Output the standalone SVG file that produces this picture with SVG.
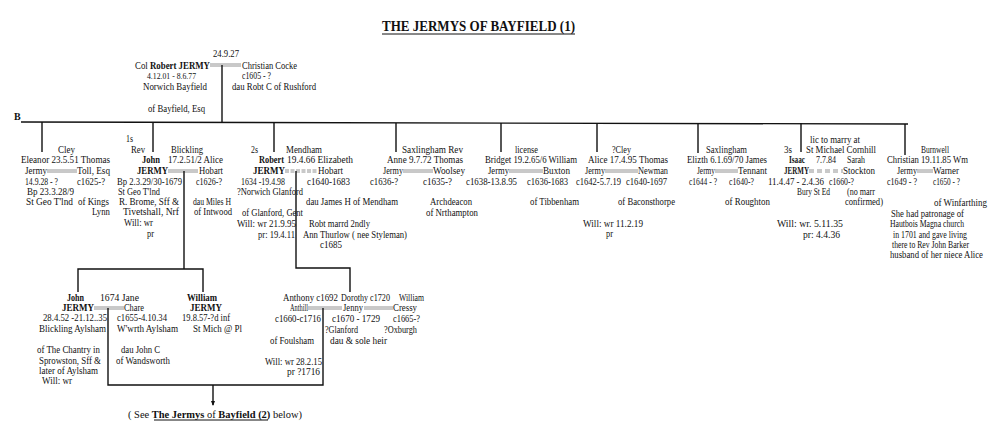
<svg xmlns="http://www.w3.org/2000/svg" width="1004" height="447" viewBox="0 0 1004 447">
<style>
text{font-family:"Liberation Serif","Times New Roman",serif;font-size:10px;fill:#111}
.b{font-weight:bold}
.s{font-size:9px}
.title{font-size:14px;font-weight:bold}
.c{stroke:#111;stroke-width:1.4;fill:none}
.m{stroke:#777;stroke-width:0.8;fill:none}
.md{stroke:#777;stroke-width:0.8;fill:none;stroke-dasharray:4 1.5}
.md2{stroke:#777;stroke-width:0.8;fill:none;stroke-dasharray:5 3}
</style>
<rect width="1004" height="447" fill="#fff"/>
<g id="title">
<text class="title" x="382" y="31" textLength="193" lengthAdjust="spacingAndGlyphs">THE JERMYS OF BAYFIELD (1)</text>
<line x1="382" y1="34" x2="575" y2="34" stroke="#111" stroke-width="1"/>
</g>
<g id="connectors">
<path class="m" d="M210 64H241M210 66H241"/>
<path class="c" d="M222 65V122"/>
<path class="c" d="M21 122L908 124"/>
<path class="c" d="M42 122V152M153 122V152M274 123V152M396 123V152M501 123V152M597 123V152M698 123V153M801 123V152M905 124V155"/>
<path class="m" d="M47 170H77M47 172H77"/>
<path class="m" d="M168 170H198M168 172H198"/>
<path class="md" d="M285 170H317M285 172H317"/>
<path class="m" d="M403 170H433M403 172H433"/>
<path class="m" d="M509 170H543M509 172H543"/>
<path class="m" d="M605 170H638M605 172H638"/>
<path class="m" d="M715 170H738M715 172H738"/>
<path class="md2" d="M809 170H843M809 172H843"/>
<path class="m" d="M917 170H933M917 172H933"/>
<path class="c" d="M184 171V269M78 292V269H203V292"/>
<path class="c" d="M296 171V268H350V292"/>
<path class="m" d="M94 307H124M94 309H124"/>
<path class="m" d="M308 307H342M308 309H342"/>
<path class="m" d="M364 307H393M364 309H393"/>
<path class="c" d="M108 308V385H323V308"/>
<path class="c" d="M213 385V405"/>
<path d="M211 401L213 406L215 401Z" fill="#111"/>
</g>
<g id="marker-b"><text class="b" x="14" y="120" font-size="8">B</text></g>
<g id="robert-sr">
<text x="213" y="57" textLength="26" lengthAdjust="spacingAndGlyphs">24.9.27</text>
<text x="135" y="68.5" textLength="75" lengthAdjust="spacingAndGlyphs">Col <tspan class="b">Robert JERMY</tspan></text>
<text class="s" x="147" y="78.5" textLength="49" lengthAdjust="spacingAndGlyphs">4.12.01 - 8.6.77</text>
<text x="143" y="89.5" textLength="64" lengthAdjust="spacingAndGlyphs">Norwich  Bayfield</text>
<text x="148" y="111.5" textLength="57" lengthAdjust="spacingAndGlyphs">of Bayfield, Esq</text>
</g>
<g id="christian-cocke">
<text x="242" y="68.5" textLength="55" lengthAdjust="spacingAndGlyphs">Christian Cocke</text>
<text x="242" y="78.5" textLength="29" lengthAdjust="spacingAndGlyphs">c1605  -  ?</text>
<text x="232" y="89.5" textLength="84" lengthAdjust="spacingAndGlyphs">dau Robt C of Rushford</text>
</g>
<g id="eleanor">
<text x="58" y="152.5" textLength="17" lengthAdjust="spacingAndGlyphs">Cley</text>
<text x="21" y="163" textLength="89" lengthAdjust="spacingAndGlyphs">Eleanor  23.5.51  Thomas</text>
<text x="25" y="174" textLength="22" lengthAdjust="spacingAndGlyphs">Jermy</text>
<text x="77" y="174" textLength="33" lengthAdjust="spacingAndGlyphs">Toll, Esq</text>
<text x="25" y="184.5" textLength="33" lengthAdjust="spacingAndGlyphs">14.9.28 - ?</text>
<text x="77" y="184.5" textLength="28" lengthAdjust="spacingAndGlyphs">c1625-?</text>
<text x="27" y="194.5" textLength="47" lengthAdjust="spacingAndGlyphs">Bp 23.3.28/9</text>
<text x="26" y="204.5" textLength="47" lengthAdjust="spacingAndGlyphs">St Geo T'lnd</text>
<text x="78" y="204.5" textLength="31" lengthAdjust="spacingAndGlyphs">of Kings</text>
<text x="92" y="214.5" textLength="18" lengthAdjust="spacingAndGlyphs">Lynn</text>
</g>
<g id="john">
<text x="126" y="141.5" textLength="7" lengthAdjust="spacingAndGlyphs">1s</text>
<text x="131" y="152.5" textLength="14" lengthAdjust="spacingAndGlyphs">Rev</text>
<text class="b" x="142" y="163" textLength="18" lengthAdjust="spacingAndGlyphs">John</text>
<text class="b" x="137" y="174" textLength="31" lengthAdjust="spacingAndGlyphs">JERMY</text>
<text x="117" y="184.5" textLength="65" lengthAdjust="spacingAndGlyphs">Bp 2.3.29/30-1679</text>
<text x="118" y="194.5" textLength="42" lengthAdjust="spacingAndGlyphs">St Geo T'lnd</text>
<text x="119" y="204.5" textLength="60" lengthAdjust="spacingAndGlyphs">R. Brome, Sff  &amp;</text>
<text x="123" y="214.5" textLength="56" lengthAdjust="spacingAndGlyphs">Tivetshall, Nrf</text>
<text x="124" y="226" textLength="29" lengthAdjust="spacingAndGlyphs">Will:  wr</text>
<text x="147" y="237" textLength="7" lengthAdjust="spacingAndGlyphs">pr</text>
</g>
<g id="alice-hobart">
<text x="171" y="152.5" textLength="32" lengthAdjust="spacingAndGlyphs">Blickling</text>
<text x="168" y="163" textLength="55" lengthAdjust="spacingAndGlyphs">17.2.51/2  Alice</text>
<text x="199" y="174" textLength="24" lengthAdjust="spacingAndGlyphs">Hobart</text>
<text x="196" y="184.5" textLength="26" lengthAdjust="spacingAndGlyphs">c1626-?</text>
<text x="193" y="204.5" textLength="38" lengthAdjust="spacingAndGlyphs">dau Miles H</text>
<text x="194" y="214.5" textLength="38" lengthAdjust="spacingAndGlyphs">of Intwood</text>
</g>
<g id="robert">
<text x="251" y="152.5" textLength="7" lengthAdjust="spacingAndGlyphs">2s</text>
<text class="b" x="259" y="163" textLength="25" lengthAdjust="spacingAndGlyphs">Robert</text>
<text class="b" x="253" y="174" textLength="32" lengthAdjust="spacingAndGlyphs">JERMY</text>
<text x="241" y="184.5" textLength="44" lengthAdjust="spacingAndGlyphs">1634 -19.4.98</text>
<text x="237" y="194.5" textLength="66" lengthAdjust="spacingAndGlyphs">?Norwich Glanford</text>
<text x="242" y="215.5" textLength="61" lengthAdjust="spacingAndGlyphs">of Glanford, Gent</text>
<text x="237" y="226.5" textLength="59" lengthAdjust="spacingAndGlyphs">Will: wr 21.9.95</text>
<text x="258" y="237.5" textLength="37" lengthAdjust="spacingAndGlyphs">pr: 19.4.11</text>
</g>
<g id="elizabeth-hobart">
<text x="286" y="152.5" textLength="36" lengthAdjust="spacingAndGlyphs">Mendham</text>
<text x="287" y="163" textLength="66" lengthAdjust="spacingAndGlyphs">19.4.66  Elizabeth</text>
<text x="318" y="174" textLength="25" lengthAdjust="spacingAndGlyphs">Hobart</text>
<text x="307" y="184.5" textLength="43" lengthAdjust="spacingAndGlyphs">c1640-1683</text>
<text x="306" y="205" textLength="92" lengthAdjust="spacingAndGlyphs">dau James H  of Mendham</text>
<text x="309" y="226.5" textLength="61" lengthAdjust="spacingAndGlyphs">Robt marrd 2ndly</text>
<text x="303" y="237.5" textLength="104" lengthAdjust="spacingAndGlyphs">Ann Thurlow ( nee Styleman)</text>
<text x="320" y="248" textLength="22" lengthAdjust="spacingAndGlyphs">c1685</text>
</g>
<g id="anne">
<text x="402" y="152.5" textLength="61" lengthAdjust="spacingAndGlyphs">Saxlingham  Rev</text>
<text x="387" y="163" textLength="76" lengthAdjust="spacingAndGlyphs">Anne  9.7.72  Thomas</text>
<text x="383" y="174" textLength="20" lengthAdjust="spacingAndGlyphs">Jermy</text>
<text x="433" y="174" textLength="32" lengthAdjust="spacingAndGlyphs">Woolsey</text>
<text x="370" y="184.5" textLength="28" lengthAdjust="spacingAndGlyphs">c1636-?</text>
<text x="423" y="184.5" textLength="29" lengthAdjust="spacingAndGlyphs">c1635-?</text>
<text x="430" y="205" textLength="42" lengthAdjust="spacingAndGlyphs">Archdeacon</text>
<text x="426" y="215.5" textLength="52" lengthAdjust="spacingAndGlyphs">of Nrthampton</text>
</g>
<g id="bridget">
<text x="515" y="152.5" textLength="23" lengthAdjust="spacingAndGlyphs">license</text>
<text x="485" y="163" textLength="92" lengthAdjust="spacingAndGlyphs">Bridget 19.2.65/6 William</text>
<text x="488" y="174" textLength="21" lengthAdjust="spacingAndGlyphs">Jermy</text>
<text x="543" y="174" textLength="27" lengthAdjust="spacingAndGlyphs">Buxton</text>
<text x="466" y="184.5" textLength="51" lengthAdjust="spacingAndGlyphs">c1638-13.8.95</text>
<text x="527" y="184.5" textLength="41" lengthAdjust="spacingAndGlyphs">c1636-1683</text>
<text x="530" y="205" textLength="49" lengthAdjust="spacingAndGlyphs">of Tibbenham</text>
</g>
<g id="alice">
<text x="612" y="152.5" textLength="19" lengthAdjust="spacingAndGlyphs">?Cley</text>
<text x="588" y="163" textLength="80" lengthAdjust="spacingAndGlyphs">Alice 17.4.95  Thomas</text>
<text x="585" y="174" textLength="20" lengthAdjust="spacingAndGlyphs">Jermy</text>
<text x="638" y="174" textLength="30" lengthAdjust="spacingAndGlyphs">Newman</text>
<text x="576" y="184.5" textLength="45" lengthAdjust="spacingAndGlyphs">c1642-5.7.19</text>
<text x="626" y="184.5" textLength="41" lengthAdjust="spacingAndGlyphs">c1640-1697</text>
<text x="618" y="205" textLength="57" lengthAdjust="spacingAndGlyphs">of Baconsthorpe</text>
<text x="583" y="226.5" textLength="60" lengthAdjust="spacingAndGlyphs">Will: wr 11.2.19</text>
<text x="606" y="237" textLength="7" lengthAdjust="spacingAndGlyphs">pr</text>
</g>
<g id="elizth">
<text x="706" y="152.5" textLength="41" lengthAdjust="spacingAndGlyphs">Saxlingham</text>
<text x="687" y="163" textLength="80" lengthAdjust="spacingAndGlyphs">Elizth 6.1.69/70 James</text>
<text x="697" y="174" textLength="18" lengthAdjust="spacingAndGlyphs">Jermy</text>
<text x="738" y="174" textLength="29" lengthAdjust="spacingAndGlyphs">Tennant</text>
<text x="689" y="184.5" textLength="28" lengthAdjust="spacingAndGlyphs">c1644 - ?</text>
<text x="729" y="184.5" textLength="25" lengthAdjust="spacingAndGlyphs">c1640-?</text>
<text x="725" y="205" textLength="45" lengthAdjust="spacingAndGlyphs">of Roughton</text>
</g>
<g id="isaac">
<text x="810" y="143" textLength="50" lengthAdjust="spacingAndGlyphs">lic  to marry at</text>
<text x="784" y="152.5" textLength="8" lengthAdjust="spacingAndGlyphs">3s</text>
<text x="806" y="152.5" textLength="70" lengthAdjust="spacingAndGlyphs">St Michael Cornhill</text>
<text class="b" x="789" y="163" textLength="16" lengthAdjust="spacingAndGlyphs">Isaac</text>
<text x="816" y="163" textLength="20" lengthAdjust="spacingAndGlyphs">7.7.84</text>
<text class="b" x="784" y="174" textLength="25" lengthAdjust="spacingAndGlyphs">JERMY</text>
<text x="768" y="184.5" textLength="56" lengthAdjust="spacingAndGlyphs">11.4.47 - 2.4.36</text>
<text x="797" y="194.5" textLength="33" lengthAdjust="spacingAndGlyphs">Bury St Ed</text>
<text x="777" y="227" textLength="66" lengthAdjust="spacingAndGlyphs">Will: wr. 5.11.35</text>
<text x="803" y="237.5" textLength="37" lengthAdjust="spacingAndGlyphs">pr: 4.4.36</text>
</g>
<g id="sarah-stockton">
<text x="847" y="163" textLength="18" lengthAdjust="spacingAndGlyphs">Sarah</text>
<text x="843" y="174" textLength="32" lengthAdjust="spacingAndGlyphs">Stockton</text>
<text x="829" y="184.5" textLength="25" lengthAdjust="spacingAndGlyphs">c1660-?</text>
<text x="847" y="194.5" textLength="28" lengthAdjust="spacingAndGlyphs">(no marr</text>
<text x="845" y="205" textLength="38" lengthAdjust="spacingAndGlyphs">confirmed)</text>
</g>
<g id="christian">
<text x="921" y="152.5" textLength="28" lengthAdjust="spacingAndGlyphs">Burnwell</text>
<text x="887" y="163" textLength="81" lengthAdjust="spacingAndGlyphs">Christian 19.11.85 Wm</text>
<text x="897" y="174" textLength="20" lengthAdjust="spacingAndGlyphs">Jermy</text>
<text x="933" y="174" textLength="26" lengthAdjust="spacingAndGlyphs">Warner</text>
<text x="887" y="184.5" textLength="30" lengthAdjust="spacingAndGlyphs">c1649 - ?</text>
<text x="933" y="184.5" textLength="27" lengthAdjust="spacingAndGlyphs">c1650 - ?</text>
<text x="934" y="206" textLength="53" lengthAdjust="spacingAndGlyphs">of Winfarthing</text>
<text x="891" y="216.5" textLength="73" lengthAdjust="spacingAndGlyphs">She had patronage of</text>
<text x="890" y="227" textLength="74" lengthAdjust="spacingAndGlyphs">Hautbois Magna church</text>
<text x="893" y="237.5" textLength="74" lengthAdjust="spacingAndGlyphs">in 1701 and gave living</text>
<text x="892" y="247.5" textLength="77" lengthAdjust="spacingAndGlyphs">there to Rev John Barker</text>
<text x="890" y="258" textLength="93" lengthAdjust="spacingAndGlyphs">husband of her niece Alice</text>
</g>
<g id="john-jr">
<text class="b" x="67" y="300.5" textLength="17" lengthAdjust="spacingAndGlyphs">John</text>
<text class="b" x="62" y="311" textLength="32" lengthAdjust="spacingAndGlyphs">JERMY</text>
<text x="43" y="321" textLength="64" lengthAdjust="spacingAndGlyphs">28.4.52 -21.12..35</text>
<text x="39" y="331.5" textLength="67" lengthAdjust="spacingAndGlyphs">Blickling  Aylsham</text>
<text x="37" y="352.5" textLength="63" lengthAdjust="spacingAndGlyphs">of The Chantry in</text>
<text x="39" y="363.5" textLength="62" lengthAdjust="spacingAndGlyphs">Sprowston, Sff &amp;</text>
<text x="39" y="373.5" textLength="59" lengthAdjust="spacingAndGlyphs">later of Aylsham</text>
<text x="42" y="384" textLength="30" lengthAdjust="spacingAndGlyphs">Will:  wr</text>
</g>
<g id="jane-chare">
<text x="100" y="300.5" textLength="39" lengthAdjust="spacingAndGlyphs">1674  Jane</text>
<text x="124" y="311" textLength="20" lengthAdjust="spacingAndGlyphs">Chare</text>
<text x="117" y="321" textLength="50" lengthAdjust="spacingAndGlyphs">c1655-4.10.34</text>
<text x="117" y="331.5" textLength="61" lengthAdjust="spacingAndGlyphs">W'wrth  Aylsham</text>
<text x="121" y="352.5" textLength="39" lengthAdjust="spacingAndGlyphs">dau John C</text>
<text x="116" y="363.5" textLength="54" lengthAdjust="spacingAndGlyphs">of Wandsworth</text>
</g>
<g id="william">
<text class="b" x="187" y="300.5" textLength="30" lengthAdjust="spacingAndGlyphs">William</text>
<text class="b" x="190" y="311" textLength="32" lengthAdjust="spacingAndGlyphs">JERMY</text>
<text x="182" y="321" textLength="48" lengthAdjust="spacingAndGlyphs">19.8.57-?d inf</text>
<text x="193" y="331.5" textLength="49" lengthAdjust="spacingAndGlyphs">St Mich @ Pl</text>
</g>
<g id="anthony">
<text x="283" y="300.5" textLength="55" lengthAdjust="spacingAndGlyphs">Anthony c1692</text>
<text x="290" y="311" textLength="18" lengthAdjust="spacingAndGlyphs">Anthill</text>
<text x="275" y="321.5" textLength="46" lengthAdjust="spacingAndGlyphs">c1660-c1716</text>
<text x="270" y="343.5" textLength="44" lengthAdjust="spacingAndGlyphs">of Foulsham</text>
<text x="265" y="364.5" textLength="57" lengthAdjust="spacingAndGlyphs">Will: wr 28.2.15</text>
<text x="287" y="374.5" textLength="33" lengthAdjust="spacingAndGlyphs">pr ?1716</text>
</g>
<g id="dorothy">
<text x="341" y="300.5" textLength="49" lengthAdjust="spacingAndGlyphs">Dorothy c1720</text>
<text x="343" y="311" textLength="20" lengthAdjust="spacingAndGlyphs">Jenny</text>
<text x="332" y="321.5" textLength="48" lengthAdjust="spacingAndGlyphs">c1670  - 1729</text>
<text x="325" y="332.5" textLength="33" lengthAdjust="spacingAndGlyphs">?Glanford</text>
<text x="330" y="343.5" textLength="57" lengthAdjust="spacingAndGlyphs">dau &amp; sole heir</text>
</g>
<g id="william-cressy">
<text x="399" y="300.5" textLength="25" lengthAdjust="spacingAndGlyphs">William</text>
<text x="393" y="311" textLength="24" lengthAdjust="spacingAndGlyphs">Cressy</text>
<text x="393" y="321.5" textLength="27" lengthAdjust="spacingAndGlyphs">c1665-?</text>
<text x="384" y="332.5" textLength="33" lengthAdjust="spacingAndGlyphs">?Oxburgh</text>
</g>
<g id="see-note">
<text x="128" y="417.5" textLength="174" lengthAdjust="spacingAndGlyphs">( See  <tspan class="b">The Jermys</tspan> of <tspan class="b">Bayfield (2)</tspan>  below)</text>
<line x1="154" y1="420" x2="268" y2="420" stroke="#111" stroke-width="1"/>
</g>
</svg>
